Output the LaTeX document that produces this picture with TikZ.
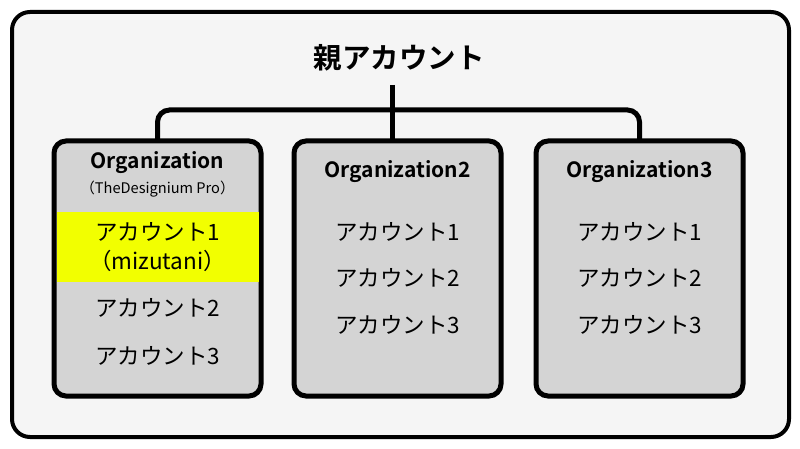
\documentclass[tikz,border=0pt]{standalone}
\usepackage{fontspec}
\setmainfont{Noto Sans CJK JP}[BoldFont={Noto Sans CJK JP Bold}]
\definecolor{bgpanel}{HTML}{F5F5F5}
\definecolor{orgfill}{HTML}{D4D4D4}
\definecolor{hiyellow}{HTML}{F2FF00}
\begin{document}
\begin{tikzpicture}[x=1pt,y=-1pt,
  orgbox/.style={draw=black,line width=5pt,fill=orgfill,rounded corners=12pt,
    minimum width=207pt,minimum height=255pt,inner sep=0pt,outer sep=0pt},
  orgtitle/.style={font=\bfseries\fontsize{21}{25}\selectfont,inner sep=0pt},
  orgsub/.style={font=\fontsize{14.6}{17}\selectfont,inner sep=0pt},
  acct/.style={font=\fontsize{22.5}{27}\selectfont,inner sep=0pt},
  link/.style={line width=5pt,rounded corners=12pt}]
\useasboundingbox (0,0) rectangle (800,449);
\fill[white] (0,0) rectangle (800,449);
\draw[line width=4pt,fill=bgpanel,rounded corners=18pt] (12,12) rectangle (789,437);

\node[font=\bfseries\fontsize{28.5}{32}\selectfont,inner sep=0pt] (parent) at (399,58) {親アカウント};

\node[orgbox] (org1) at (157.5,268.5) {};
\node[orgbox] (org2) at (397.5,268.5) {};
\node[orgbox] (org3) at (639.5,268.5) {};

\fill[hiyellow] ([xshift=2.5pt]org1.west |- 0,212) rectangle ([xshift=-2.5pt]org1.east |- 0,282);

\coordinate (stem) at (392,85);
\coordinate (bus) at (392,110);
\draw[line width=5pt] (stem) -- (stem |- org2.north);
\draw[link] (org1.north) -- (org1.north |- bus) -| (org3.north);

\node[orgtitle] (o1t) at (157.5,163) {Organization};
\node[orgsub] (o1s) at (157.5,189) {（TheDesignium Pro）};
\node[acct] (o1a1) at (157.5,232) {アカウント1};
\node[acct] (o1m) at (157.5,261) {（mizutani）};
\node[acct] (o1a2) at (157.5,308) {アカウント2};
\node[acct] (o1a3) at (157.5,356) {アカウント3};

\node[orgtitle] (o2t) at (397.5,172) {Organization2};
\node[acct] (o2a1) at (397.5,232) {アカウント1};
\node[acct] (o2a2) at (397.5,278) {アカウント2};
\node[acct] (o2a3) at (397.5,325) {アカウント3};

\node[orgtitle] (o3t) at (639.5,172) {Organization3};
\node[acct] (o3a1) at (639.5,232) {アカウント1};
\node[acct] (o3a2) at (639.5,278) {アカウント2};
\node[acct] (o3a3) at (639.5,325) {アカウント3};
\end{tikzpicture}
\end{document}
